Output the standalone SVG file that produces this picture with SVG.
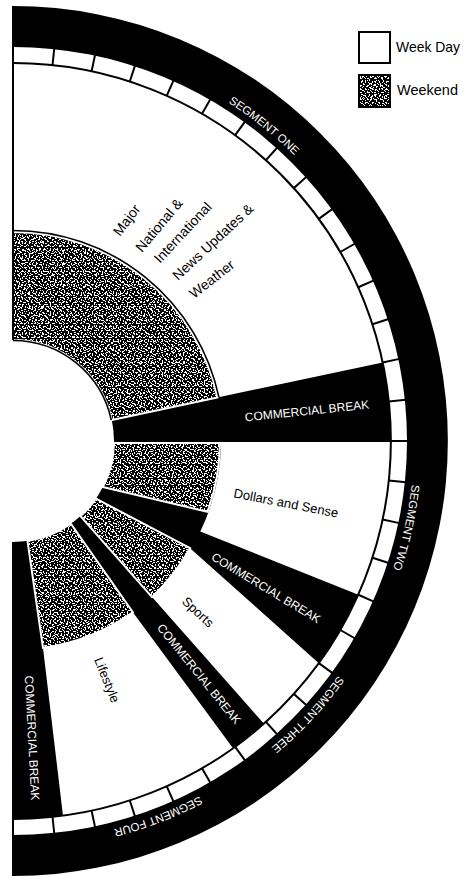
<svg xmlns="http://www.w3.org/2000/svg" width="466" height="878" viewBox="0 0 466 878">
<style>
.lbl{font-family:"Liberation Sans",Arial,sans-serif;fill:#000}
.wl{font-family:"Liberation Sans",Arial,sans-serif;fill:#fff;font-size:12px}
.seg{font-family:"Liberation Sans",Arial,sans-serif;fill:#fff;font-size:11.5px}
.tk{stroke:#000;stroke-width:2}
.stp{fill:url(#stip);stroke:#fff;stroke-width:2}
.ol{fill:none;stroke:#000;stroke-width:1.6}
</style>
<defs>
<pattern id="p1" width="7" height="7" patternUnits="userSpaceOnUse"><path fill="#fff" d="M0,0h1v1h-1z M3,1h2v1h-2z M5,3h1v1h-1z M1,4h1v2h-1z M4,5h1v1h-1z M6,6h1v1h-1z"/></pattern>
<pattern id="p2" width="11" height="11" patternUnits="userSpaceOnUse"><path fill="#fff" d="M2,1h1v1h-1z M7,0h2v1h-2z M9,4h1v1h-1z M4,3h1v1h-1z M0,7h2v1h-2z M6,6h1v2h-1z M3,9h1v1h-1z M8,9h1v1h-1z M10,10h1v1h-1z"/></pattern>
<pattern id="p3" width="13" height="13" patternUnits="userSpaceOnUse"><path fill="#fff" d="M1,2h1v1h-1z M5,1h1v1h-1z M10,3h2v1h-2z M12,8h1v1h-1z M3,7h1v2h-1z M7,5h1v1h-1z M8,11h2v1h-2z M2,11h1v1h-1z M6,9h1v1h-1z M11,12h1v1h-1z M9,7h1v1h-1z"/></pattern>
<pattern id="stip" width="466" height="878" patternUnits="userSpaceOnUse">
<rect width="466" height="878" fill="#000"/>
<rect width="466" height="878" fill="url(#p1)"/>
<rect width="466" height="878" fill="url(#p2)"/>
<rect width="466" height="878" fill="url(#p3)"/>
</pattern>
<path id="ring" d="M13,40 A401,401 0 0 1 13,842" fill="none"/>
</defs>
<rect width="466" height="878" fill="#fff"/>

<g id="outer-ring">
<path d="M13,6 A435,435 0 0 1 13,876 Z" fill="#000"/>
<path d="M13,47 A394,394 0 0 1 13,835 Z" fill="#fff"/>
</g>

<g id="breaks-background">
<path d="M382.74,362.41 A378,378 0 0 1 13,819 L13,542 A101,101 0 0 0 111.79,420 Z" fill="#000"/>
</g>

<g id="segment-one-news">
<path class="stp" d="M13,232 A209,209 0 0 1 217.43,397.55 L111.79,420 A101,101 0 0 0 13,340 Z"/>
<path class="ol" d="M13,230.5 A210.5,210.5 0 0 1 218.9,397.2"/>
<path class="ol" d="M13,340.5 A100.5,100.5 0 0 1 111.3,420.1"/>
<text class="lbl" font-size="14" transform="translate(120,237) rotate(-53)">Major</text>
<text class="lbl" font-size="14" transform="translate(142,253) rotate(-50)">National &amp;</text>
<text class="lbl" font-size="14" transform="translate(160,264) rotate(-47)">International</text>
<text class="lbl" font-size="14" transform="translate(178,281) rotate(-43)">News Updates &amp;</text>
<text class="lbl" font-size="14" transform="translate(194,299) rotate(-38)">Weather</text>
</g>

<g id="dollars-and-sense">
<path d="M221,442 L391,442 A378,378 0 0 1 358.32,594.75 L200.27,531.53 A208,208 0 0 0 221,442 Z" fill="#fff"/>
<path class="stp" d="M114,443 L220,443 A207,207 0 0 1 207.52,511.8 L102.91,487.01 A101,101 0 0 0 114,443 Z"/>
<text class="lbl" font-size="13" text-anchor="middle" dominant-baseline="central" transform="translate(286,503) rotate(11)">Dollars and Sense</text>
</g>

<g id="sports">
<path d="M190.09,548.23 L318.81,663.18 A378,378 0 0 1 263.97,723.67 L152.03,597.05 A208,208 0 0 0 190.09,548.23 Z" fill="#fff"/>
<path class="stp" d="M95.94,498.64 L190.09,548.23 A208,208 0 0 1 152.03,597.05 L80.45,516.18 A101,101 0 0 0 95.94,498.64 Z"/>
<text class="lbl" font-size="13" text-anchor="middle" dominant-baseline="central" transform="translate(198,612) rotate(43)">Sports</text>
</g>

<g id="lifestyle">
<path d="M132.88,612.2 L233.04,748.35 A378,378 0 0 1 62.99,815.68 L42.99,647.84 A209,209 0 0 0 132.88,612.2 Z" fill="#fff"/>
<path class="stp" d="M70.93,523.73 L132.88,612.2 A209,209 0 0 1 42.99,647.84 L27.49,540.95 A101,101 0 0 0 70.93,523.73 Z"/>
<text class="lbl" font-size="13" text-anchor="middle" dominant-baseline="central" transform="translate(107,680) rotate(68)">Lifestyle</text>
</g>

<g id="commercial-breaks">
<text class="wl" text-anchor="middle" dominant-baseline="central" transform="translate(307,411) rotate(-6)">COMMERCIAL BREAK</text>
<text class="wl" text-anchor="middle" dominant-baseline="central" transform="translate(266,588) rotate(31)">COMMERCIAL BREAK</text>
<text class="wl" text-anchor="middle" dominant-baseline="central" transform="translate(199,674) rotate(51)">COMMERCIAL BREAK</text>
<text class="wl" text-anchor="middle" dominant-baseline="central" transform="translate(32,738) rotate(87)">COMMERCIAL BREAK</text>
</g>

<g id="minute-ticks">
<path d="M13,63 A378,378 0 0 1 13,819" fill="none" stroke="#000" stroke-width="2"/>
<line class="tk" x1="13" y1="6" x2="13" y2="340"/>
<line class="tk" x1="13" y1="542" x2="13" y2="876"/>
<line class="tk" x1="13" y1="63" x2="13" y2="46" transform="rotate(6 13 441)"/>
<line class="tk" x1="13" y1="63" x2="13" y2="46" transform="rotate(12 13 441)"/>
<line class="tk" x1="13" y1="63" x2="13" y2="46" transform="rotate(18 13 441)"/>
<line class="tk" x1="13" y1="63" x2="13" y2="46" transform="rotate(24 13 441)"/>
<line class="tk" x1="13" y1="63" x2="13" y2="46" transform="rotate(30 13 441)"/>
<line class="tk" x1="13" y1="63" x2="13" y2="46" transform="rotate(36 13 441)"/>
<line class="tk" x1="13" y1="63" x2="13" y2="46" transform="rotate(42 13 441)"/>
<line class="tk" x1="13" y1="63" x2="13" y2="46" transform="rotate(48 13 441)"/>
<line class="tk" x1="13" y1="63" x2="13" y2="46" transform="rotate(54 13 441)"/>
<line class="tk" x1="13" y1="63" x2="13" y2="46" transform="rotate(60 13 441)"/>
<line class="tk" x1="13" y1="63" x2="13" y2="46" transform="rotate(66 13 441)"/>
<line class="tk" x1="13" y1="63" x2="13" y2="46" transform="rotate(72 13 441)"/>
<line class="tk" x1="13" y1="63" x2="13" y2="46" transform="rotate(78 13 441)"/>
<line class="tk" x1="13" y1="63" x2="13" y2="46" transform="rotate(84 13 441)"/>
<line class="tk" x1="13" y1="63" x2="13" y2="46" transform="rotate(90 13 441)"/>
<line class="tk" x1="13" y1="63" x2="13" y2="46" transform="rotate(96 13 441)"/>
<line class="tk" x1="13" y1="63" x2="13" y2="46" transform="rotate(102 13 441)"/>
<line class="tk" x1="13" y1="63" x2="13" y2="46" transform="rotate(108 13 441)"/>
<line class="tk" x1="13" y1="63" x2="13" y2="46" transform="rotate(114 13 441)"/>
<line class="tk" x1="13" y1="63" x2="13" y2="46" transform="rotate(120 13 441)"/>
<line class="tk" x1="13" y1="63" x2="13" y2="46" transform="rotate(126 13 441)"/>
<line class="tk" x1="13" y1="63" x2="13" y2="46" transform="rotate(132 13 441)"/>
<line class="tk" x1="13" y1="63" x2="13" y2="46" transform="rotate(138 13 441)"/>
<line class="tk" x1="13" y1="63" x2="13" y2="46" transform="rotate(144 13 441)"/>
<line class="tk" x1="13" y1="63" x2="13" y2="46" transform="rotate(150 13 441)"/>
<line class="tk" x1="13" y1="63" x2="13" y2="46" transform="rotate(156 13 441)"/>
<line class="tk" x1="13" y1="63" x2="13" y2="46" transform="rotate(162 13 441)"/>
<line class="tk" x1="13" y1="63" x2="13" y2="46" transform="rotate(168 13 441)"/>
<line class="tk" x1="13" y1="63" x2="13" y2="46" transform="rotate(174 13 441)"/>
</g>

<g id="segment-labels">
<text class="seg"><textPath href="#ring" startOffset="269.5" text-anchor="middle">SEGMENT ONE</textPath></text>
<text class="seg"><textPath href="#ring" startOffset="716.7" text-anchor="middle">SEGMENT TWO</textPath></text>
<text class="seg"><textPath href="#ring" startOffset="929.4" text-anchor="middle">SEGMENT THREE</textPath></text>
<text class="seg"><textPath href="#ring" startOffset="1111.4" text-anchor="middle">SEGMENT FOUR</textPath></text>
</g>

<g id="legend">
<rect x="359" y="32" width="31" height="31" fill="#fff" stroke="#000" stroke-width="2"/>
<text class="lbl" x="396" y="52" font-size="15" textLength="64" lengthAdjust="spacingAndGlyphs">Week Day</text>
<rect x="359" y="75" width="31" height="32" fill="url(#stip)" stroke="#000" stroke-width="2"/>
<text class="lbl" x="397" y="95" font-size="15" textLength="61" lengthAdjust="spacingAndGlyphs">Weekend</text>
</g>
</svg>
